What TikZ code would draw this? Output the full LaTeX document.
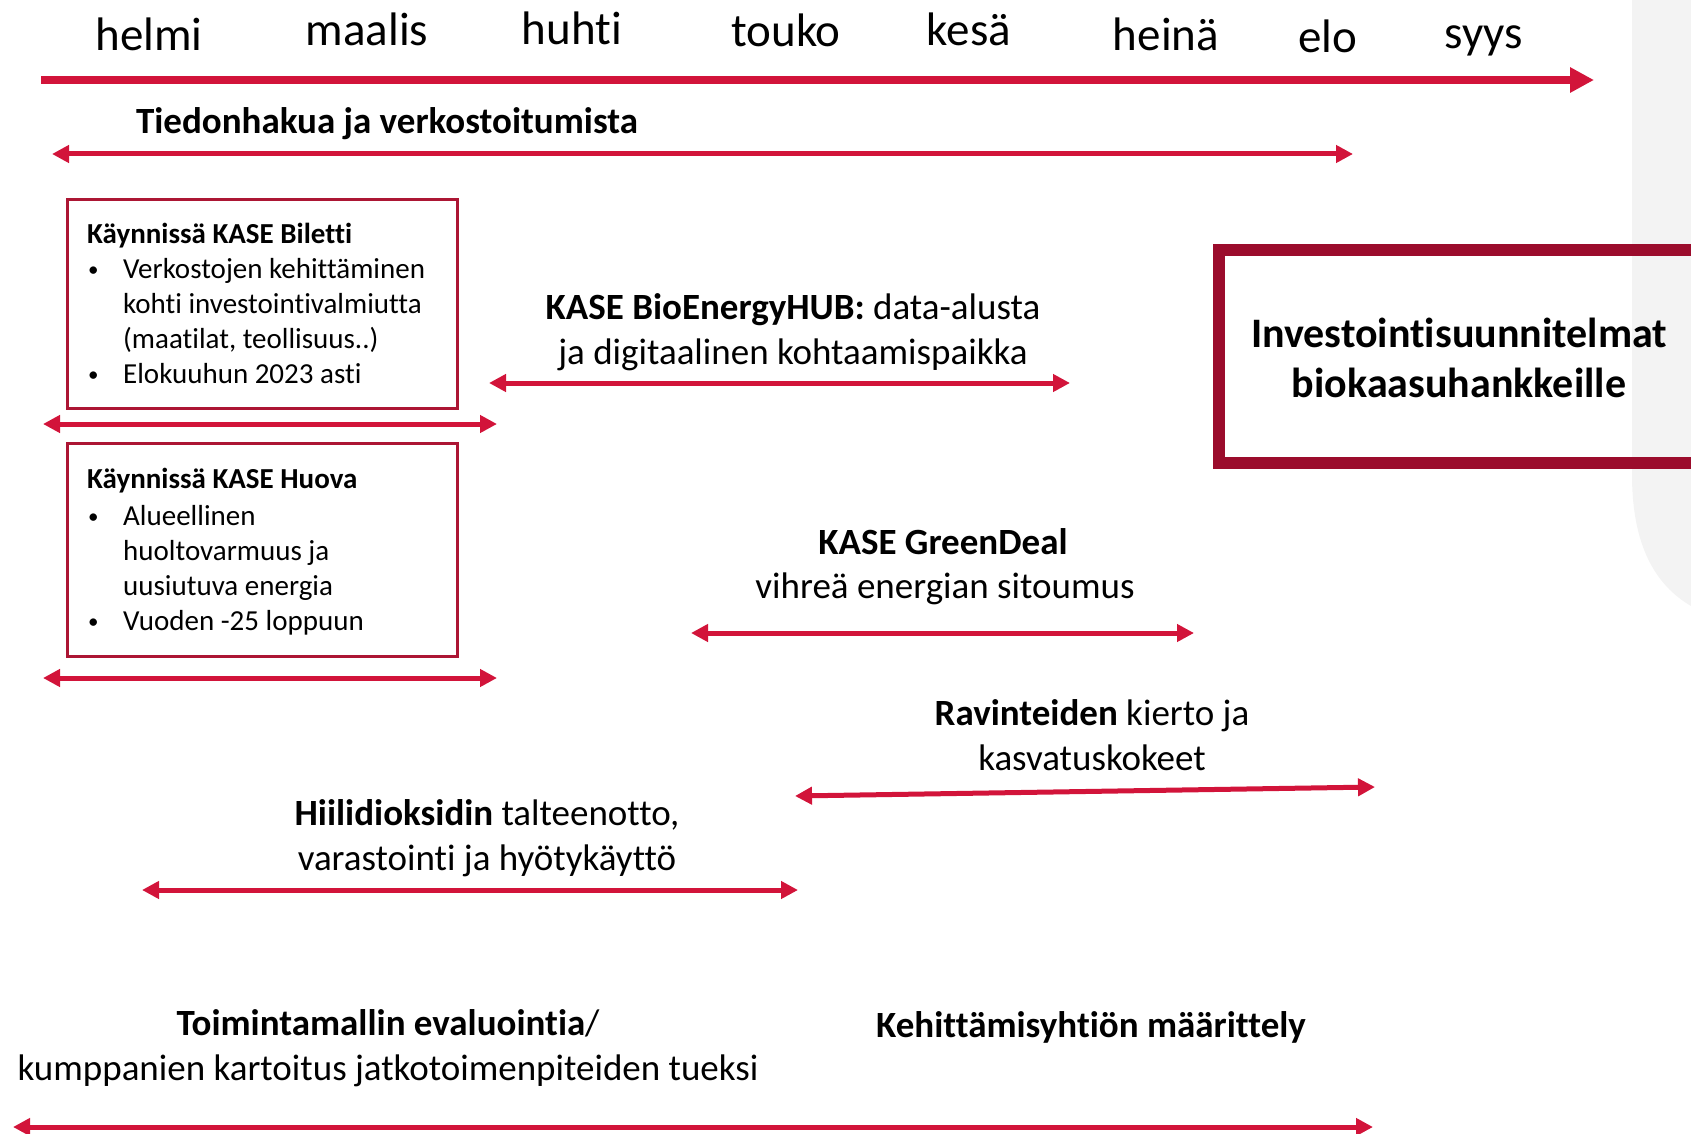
\documentclass[tikz,border=0pt]{standalone}
\usepackage{fontspec}
\setmainfont{Carlito}[Ligatures={NoCommon}]
\usetikzlibrary{arrows.meta}
\definecolor{arrred}{RGB}{210,20,58}
\definecolor{boxred}{RGB}{172,22,52}
\definecolor{bigred}{RGB}{155,12,44}
\definecolor{bggray}{RGB}{243,243,243}
\newcommand{\mybul}{\makebox[35pt][l]{\raisebox{2pt}{\fontsize{21}{21}\selectfont•}}}
\begin{document}
\begin{tikzpicture}[x=1pt,y=-1pt,
 month/.style={font=\fontsize{47}{56}\selectfont, anchor=base, inner sep=0},
 body/.style={font=\fontsize{37}{45}\selectfont, anchor=base, inner sep=0},
 boxtxt/.style={font=\fontsize{29}{35}\selectfont, anchor=base west, inner sep=0},
 bigtxt/.style={font=\bfseries\fontsize{42}{50}\selectfont, anchor=base, inner sep=0},
 frame/.style={draw=boxred, line width=3, rectangle, inner sep=0},
 bigframe/.style={draw=bigred, line width=12, rectangle, inner sep=0},
 mainarr/.style={draw=arrred, line width=7.5, -{Triangle[length=24,width=24]}},
 dbl/.style={draw=arrred, line width=5, {Triangle[length=17,width=17]}-{Triangle[length=17,width=17]}},
]
\useasboundingbox (0,0) rectangle (1691,1134);
% background gray shape at right edge
\fill[bggray] (1632,0) -- (1632,475) .. controls (1632,545) and (1655,585) .. (1691,606) -- (1691,0) -- cycle;

% months
\node[month] (m1) at (149,51) {helmi};
\node[month] (m2) at (367,46) {maalis};
\node[month] (m3) at (572,45) {huhti};
\node[month] (m4) at (786,47) {touko};
\node[month] (m5) at (969,46) {kesä};
\node[month] (m6) at (1166,51) {heinä};
\node[month] (m7) at (1328,53) {elo};
\node[month] (m8) at (1484,49) {syys};

% main timeline
\coordinate (tlS) at (41,80);
\coordinate (tlE) at (1594,80);
\draw[mainarr] (tlS) -- (tlE);

% Tiedonhakua
\node[body,font=\bfseries\fontsize{37}{45}\selectfont] (tied) at (387,134) {Tiedonhakua ja verkostoitumista};
\coordinate (tiS) at (52,154);
\coordinate (tiE) at (1353,154);
\draw[dbl] (tiS) -- (tiE);

% Biletti box
\node[frame, minimum width=390, minimum height=208] (bil) at (262,304) {};
\node[boxtxt,font=\bfseries\fontsize{29}{35}\selectfont] (bilT) at (87,243) {Käynnissä KASE Biletti};
\node[boxtxt] (bil1) at (88,278) {\mybul Verkostojen kehittäminen};
\node[boxtxt] (bil2) at (123,313) {kohti investointivalmiutta};
\node[boxtxt] (bil3) at (123,348) {(maatilat, teollisuus..)};
\node[boxtxt] (bil4) at (88,383) {\mybul Elokuuhun 2023 asti};
\coordinate (biS) at (43,424);
\coordinate (biE) at (497,424);
\draw[dbl] (biS) -- (biE);

% Huova box
\node[frame, minimum width=390, minimum height=213] (huo) at (262,549.5) {};
\node[boxtxt,font=\bfseries\fontsize{29}{35}\selectfont] (huoT) at (87,488) {Käynnissä KASE Huova};
\node[boxtxt] (huo1) at (88,525) {\mybul Alueellinen};
\node[boxtxt] (huo2) at (123,560) {huoltovarmuus ja};
\node[boxtxt] (huo3) at (123,595) {uusiutuva energia};
\node[boxtxt] (huo4) at (88,630) {\mybul Vuoden -25 loppuun};
\coordinate (huS) at (43,678);
\coordinate (huE) at (497,678);
\draw[dbl] (huS) -- (huE);

% BioEnergyHUB
\node[body] (bio1) at (793,319) {\textbf{KASE BioEnergyHUB:} data-alusta};
\node[body] (bio2) at (793,364) {ja digitaalinen kohtaamispaikka};
\coordinate (boS) at (489,383);
\coordinate (boE) at (1070,383);
\draw[dbl] (boS) -- (boE);

% Investointisuunnitelmat box
\node[bigframe, minimum width=481, minimum height=213] (inv) at (1459.5,356.5) {};
\node[bigtxt] (inv1) at (1459,347) {Investointisuunnitelmat};
\node[bigtxt] (inv2) at (1459,397) {biokaasuhankkeille};

% GreenDeal
\node[body,font=\bfseries\fontsize{37}{45}\selectfont] (gd1) at (943,554) {KASE GreenDeal};
\node[body] (gd2) at (945,598) {vihreä energian sitoumus};
\coordinate (gdS) at (691,633);
\coordinate (gdE) at (1194,633);
\draw[dbl] (gdS) -- (gdE);

% Ravinteiden
\node[body] (rav1) at (1092,725) {\textbf{Ravinteiden} kierto ja};
\node[body] (rav2) at (1092,770) {kasvatuskokeet};
\coordinate (raS) at (795,796);
\coordinate (raE) at (1375,787);
\draw[dbl] (raS) -- (raE);

% Hiilidioksidin
\node[body] (hii1) at (487,825) {\textbf{Hiilidioksidin} talteenotto,};
\node[body] (hii2) at (487,870) {varastointi ja hyötykäyttö};
\coordinate (hiS) at (142,890);
\coordinate (hiE) at (798,890);
\draw[dbl] (hiS) -- (hiE);

% Toimintamallin + Kehittamisyhtion
\node[body] (toi1) at (388,1035) {\textbf{Toimintamallin evaluointia}/};
\node[body] (toi2) at (388,1080) {kumppanien kartoitus jatkotoimenpiteiden tueksi};
\node[body,font=\bfseries\fontsize{37}{45}\selectfont] (keh) at (1091,1037) {Kehittämisyhtiön määrittely};
\coordinate (boS2) at (13,1127);
\coordinate (boE2) at (1373,1127);
\draw[dbl] (boS2) -- (boE2);
\end{tikzpicture}
\end{document}
